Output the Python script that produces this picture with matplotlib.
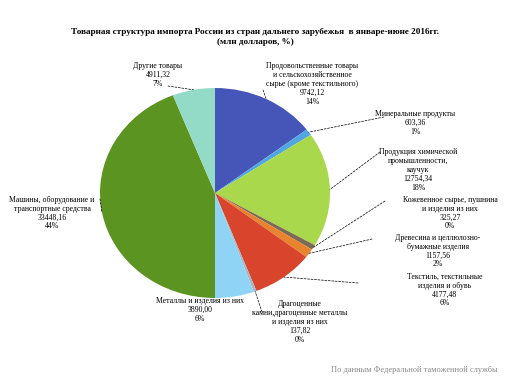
import matplotlib
matplotlib.use("Agg")
import matplotlib.pyplot as plt
import numpy as np

plt.rcParams['font.family'] = ['Liberation Serif', 'DejaVu Serif']

categories = [
    'Продовольственные товары\nи сельскохозяйственное\nсырье (кроме текстильного)',
    'Минеральные продукты',
    'Продукция химической\nпромышленности,\nкаучук',
    'Кожевенное сырье, пушнина\nи изделия из них',
    'Древесина и целлюлозно-\nбумажные изделия',
    'Текстиль, текстильные\nизделия и обувь',
    'Драгоценные\nкамни,драгоценные металлы\nи изделия из них',
    'Металлы и изделия из них',
    'Машины, оборудование и\nтранспортные средства',
    'Другие товары',
]
value_labels = ['9742,12', '603,36', '12754,34', '325,27', '1157,56', '4177,48',
                '137,82', '3890,00', '33448,16', '4911,32']
percents = ['14%', '1%', '18%', '0%', '2%', '6%', '0%', '6%', '44%', '7%']
# slice shares as drawn in the picture (%)
shares = [15, 1, 18, 0.8, 1.4, 8.9, 0.4, 5.6, 45, 6.1]
colors = ['#4656b8', '#4fa6e0', '#a9d84c', '#7d6a55', '#e8842e', '#d9452c',
          '#a9b6c4', '#8fd4f4', '#5b9420', '#93dbc6']

W, H = 508, 381
fig = plt.figure(figsize=(W / 100, H / 100), dpi=100)

cx, cy, rx, ry = 215, 193, 115, 105
ax = fig.add_axes([(cx - rx) / W, (H - cy - ry) / H, 2 * rx / W, 2 * ry / H])
wedges, _ = ax.pie(shares, colors=colors, startangle=90, counterclock=False,
                   radius=1, wedgeprops=dict(linewidth=0))
ax.set_xlim(-1, 1)
ax.set_ylim(-1, 1)
ax.set_aspect('auto')
ax.axis('off')

# label centres (pixels from top-left) and where the leader line ends
label_pos = [(312, 84), (415, 123), (418, 170), (450, 213), (438, 251),
             (445, 290), (300, 322), (200, 310), (52, 213), (158, 75)]
line_end = [(263, 90), (384, 117), (380, 152), (385, 201), (372, 239),
            (358, 283), (262, 312), None, (100, 199), (168, 86)]

for i, w in enumerate(wedges):
    ang = np.deg2rad((w.theta1 + w.theta2) / 2)
    px = (np.cos(ang), np.sin(ang))
    txt = categories[i] + '\n' + value_labels[i] + '\n' + percents[i]
    lx, ly = label_pos[i]
    fig.text(lx / W, 1 - ly / H, txt, ha='center', va='center', fontsize=5.6,
             linespacing=1.15)
    if line_end[i] is None:
        continue
    ex, ey = line_end[i]
    ax.annotate('', xy=px, xycoords='data', xytext=(ex, H - ey),
                textcoords='figure pixels',
                arrowprops=dict(arrowstyle='-', color='black', lw=0.5,
                                linestyle=(0, (3, 2)), shrinkA=0, shrinkB=0))

fig.text(255 / W, 1 - 32 / H,
         'Товарная структура импорта России из стран дальнего зарубежья  в январе-июне 2016гг.',
         ha='center', va='center', fontsize=6.6, fontweight='bold')
fig.text(255 / W, 1 - 42 / H, '(млн долларов, %)', ha='center', va='center',
         fontsize=6.6, fontweight='bold')
fig.text(498 / W, 1 - 370 / H, 'По данным Федеральной таможенной службы',
         ha='right', va='center', fontsize=6, color='#888888')

fig.savefig('out.png', dpi=100)
